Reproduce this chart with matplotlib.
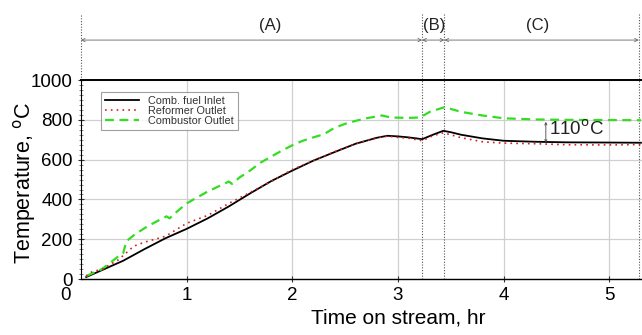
import matplotlib
matplotlib.use("Agg")
import matplotlib.pyplot as plt
from matplotlib.ticker import MultipleLocator

# ==========================
# DATA
# ==========================

t_inlet = [0.05, 0.2, 0.4, 0.6, 0.8, 1.0, 1.2, 1.4, 1.6, 1.8, 2.0, 2.2, 2.4,
           2.6, 2.8, 2.9, 3.0, 3.1, 3.23, 3.33, 3.43, 3.5, 3.6, 3.8, 4.0,
           4.3, 4.6, 5.0, 5.3]
comb_fuel_inlet = [10, 45, 92, 150, 205, 252, 305, 365, 430, 492, 545, 595,
                   638, 680, 710, 720, 717, 712, 703, 725, 745, 738, 725,
                   707, 695, 690, 687, 686, 685]

t_reformer = [0.05, 0.1, 0.2, 0.35, 0.4, 0.5, 0.6, 0.8, 1.0, 1.2, 1.4, 1.6,
              1.8, 2.0, 2.2, 2.4, 2.6, 2.8, 2.9, 3.0, 3.1, 3.23, 3.33, 3.43,
              3.5, 3.6, 3.8, 4.0, 4.3, 4.6, 5.0, 5.3]
reformer_outlet = [15, 35, 50, 95, 118, 165, 185, 215, 280, 320, 380, 435,
                   490, 550, 595, 640, 680, 710, 718, 712, 708, 695, 720,
                   735, 725, 710, 690, 683, 680, 675, 674, 676]

t_combustor = [0.05, 0.2, 0.35, 0.4, 0.43, 0.5, 0.6, 0.7, 0.81, 0.84, 0.9,
               1.0, 1.1, 1.2, 1.3, 1.4, 1.43, 1.5, 1.6, 1.7, 1.8, 1.9, 2.0,
               2.1, 2.2, 2.3, 2.4, 2.5, 2.6, 2.7, 2.85, 2.93, 3.1, 3.21, 3.3,
               3.43, 3.5, 3.6, 3.8, 4.0, 4.3, 4.6, 5.0, 5.3]
combustor_outlet = [15, 50, 112, 130, 190, 220, 255, 285, 315, 305, 335,
                    380, 410, 440, 465, 490, 478, 510, 545, 585, 615, 645,
                    672, 695, 712, 728, 760, 780, 795, 808, 822, 812, 810,
                    812, 840, 862, 855, 840, 822, 808, 802, 800, 799, 798]

# stage boundaries (hr) and labels
stage_edges = [0.0, 3.23, 3.44, 5.28]
stage_labels = ["(A)", "(B)", "(C)"]
stage_label_x = [1.79, 3.34, 4.32]

delta_label = "110$^\\mathrm{o}$C"
delta_x = 4.4
delta_range = [685, 798]

# ==========================
# FIGURE
# ==========================

plt.rcParams["font.family"] = ["Liberation Sans", "DejaVu Sans"]

fig = plt.figure(figsize=(6.42, 3.35), dpi=100)
ax = fig.add_axes([0.126, 0.167, 0.874, 0.594])

ax.plot(t_inlet, comb_fuel_inlet, color="black", lw=1.3,
        label="Comb. fuel Inlet", zorder=3)
ax.plot(t_reformer, reformer_outlet, color="#d42020", lw=1.2,
        linestyle=(0, (1, 2.5)), label="Reformer Outlet", zorder=4)
ax.plot(t_combustor, combustor_outlet, color="#33dd22", lw=1.6,
        linestyle=(0, (4, 2.5)), label="Combustor Outlet", zorder=3)

ax.set_xlim(0, 5.31)
ax.set_ylim(0, 1000)
ax.set_xticks([1, 2, 3, 4, 5])
ax.set_yticks([0, 200, 400, 600, 800, 1000])
ax.yaxis.set_minor_locator(MultipleLocator(25))
ax.tick_params(axis="both", which="major", labelsize=13.5, direction="inout",
               length=5, width=0.8, color="#333333")
ax.tick_params(axis="y", which="minor", direction="inout", length=2.5,
               width=0.5, color="#555555")
ax.grid(True, which="major", color="#d0d0d0", lw=0.9)
ax.set_axisbelow(True)

ax.spines["top"].set_linewidth(1.4)
ax.spines["bottom"].set_linewidth(1.0)
ax.spines["left"].set_linewidth(0.8)
ax.spines["right"].set_visible(False)

ax.text(-0.15, -85, "0", fontsize=13.5, ha="center", va="center")

ax.set_xlabel("Time on stream, hr", fontsize=15)
ax.xaxis.set_label_coords(0.565, -0.196)
ax.xaxis.label.set_va("center")
ax.set_ylabel("Temperature, $^\\mathrm{o}$C", fontsize=15.5)
ax.yaxis.set_label_coords(-0.10, 0.48)
ax.yaxis.label.set_va("center")

leg = ax.legend(loc="upper left", bbox_to_anchor=(0.026, 0.965),
                fontsize=7.8, frameon=True, fancybox=False, borderpad=0.35,
                labelspacing=0.0, handlelength=3.2, handletextpad=0.8)
leg.get_frame().set_edgecolor("#888888")
leg.get_frame().set_linewidth(0.8)
for txt in leg.get_texts():
    txt.set_color("#333333")

# ==========================
# STAGE MARKERS
# ==========================

for x in stage_edges:
    y0 = 1000 if x == 0 else 0
    ax.plot([x, x], [y0, 1330], color="#555555", lw=0.8,
            linestyle=(0, (1, 1.5)), clip_on=False, zorder=2)

for i in range(len(stage_labels)):
    ax.annotate("", xy=(stage_edges[i + 1], 1201),
                xytext=(stage_edges[i], 1201),
                arrowprops=dict(arrowstyle="<->", color="#666666", lw=0.6,
                                shrinkA=0, shrinkB=0,
                                mutation_scale=6),
                annotation_clip=False)
    ax.text(stage_label_x[i], 1272, stage_labels[i], fontsize=12,
            ha="center", va="center", color="#222222")

ax.annotate("", xy=(delta_x, delta_range[0]), xytext=(delta_x, 790),
            arrowprops=dict(arrowstyle="<->", color="#444444", lw=0.6,
                            shrinkA=0, shrinkB=0, mutation_scale=4))
ax.text(delta_x + 0.03, 755, delta_label, fontsize=13.5,
        ha="left", va="center", color="#222222")

plt.savefig("out.png", dpi=100)
